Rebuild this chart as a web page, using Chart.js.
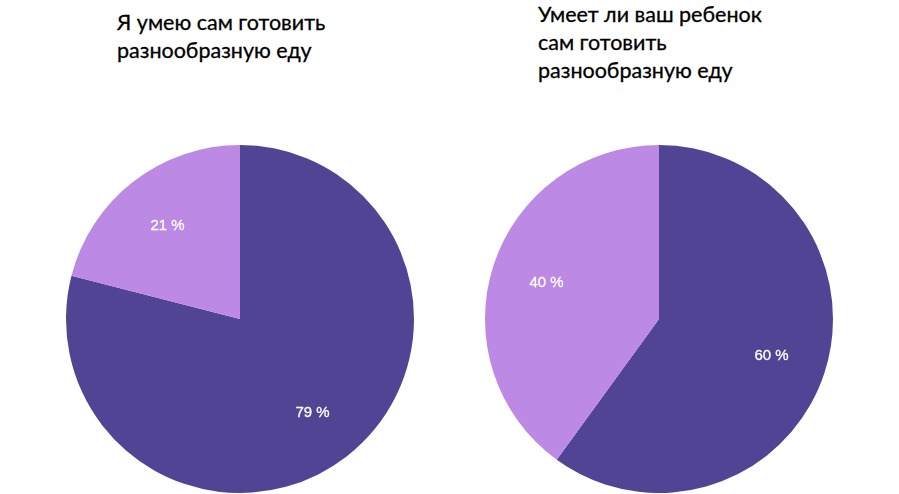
<!DOCTYPE html>
<html>
<head>
<meta charset="utf-8">
<script src="https://cdn.jsdelivr.net/npm/chart.js@4"></script>
<style>
    html, body { margin: 0; padding: 0; background: #fff; overflow: hidden; }
    body { width: 899px; height: 494px; position: relative; }
    .titulo {
        position: absolute;
        font-family: "Lato", "Open Sans", sans-serif;
        font-size: 21.5px;
        line-height: 28px;
        color: #000;
        -webkit-text-stroke: 0.3px #000;
    }
    .grafico { position: absolute; width: 348px; height: 348px; }
</style>
</head>
<body>
<div class="titulo" style="left:117px; top:8px;">Я умею сам готовить<br>разнообразную еду</div>
<div class="titulo" style="left:538px; top:0px;">Умеет ли ваш ребенок<br>сам готовить<br>разнообразную еду</div>
<div class="grafico" style="left:66px; top:145px;"><canvas id="pieEu"></canvas></div>
<div class="grafico" style="left:485px; top:145px;"><canvas id="pieFilho"></canvas></div>
<script>
    // DADOS
    const categorias = ["Да", "Нет"];
    const valoresEu = [79, 21];
    const valoresFilho = [60, 40];
    const cores = ["#514494", "#bc89e4"];

    // rotulos de porcentagem dentro das fatias
    const rotulosPlugin = {
        id: "rotulos",
        afterDatasetsDraw(chart) {
            const c = chart.ctx;
            const meta = chart.getDatasetMeta(0);
            const dados = chart.data.datasets[0].data;
            c.save();
            c.fillStyle = "#fff";
            c.strokeStyle = "#fff";
            c.lineWidth = 0.3;
            c.font = "15px 'Liberation Sans', Arial, sans-serif";
            c.textAlign = "center";
            c.textBaseline = "middle";
            meta.data.forEach((arc, i) => {
                const meio = (arc.startAngle + arc.endAngle) / 2;
                const r = arc.outerRadius * 0.68;
                const x = arc.x + Math.cos(meio) * r;
                const y = arc.y + Math.sin(meio) * r;
                c.fillText(dados[i] + " %", x, y);
                c.strokeText(dados[i] + " %", x, y);
            });
            c.restore();
        }
    };

    function criarPizza(id, valores) {
        return new Chart(document.getElementById(id), {
            type: "pie",
            data: {
                labels: categorias,
                datasets: [{ data: valores, backgroundColor: cores, borderWidth: 0 }]
            },
            options: {
                responsive: true,
                maintainAspectRatio: false,
                animation: false,
                layout: { padding: 0 },
                plugins: { legend: { display: false }, tooltip: { enabled: false } }
            },
            plugins: [rotulosPlugin]
        });
    }

    criarPizza("pieEu", valoresEu);
    criarPizza("pieFilho", valoresFilho);
</script>
</body>
</html>
